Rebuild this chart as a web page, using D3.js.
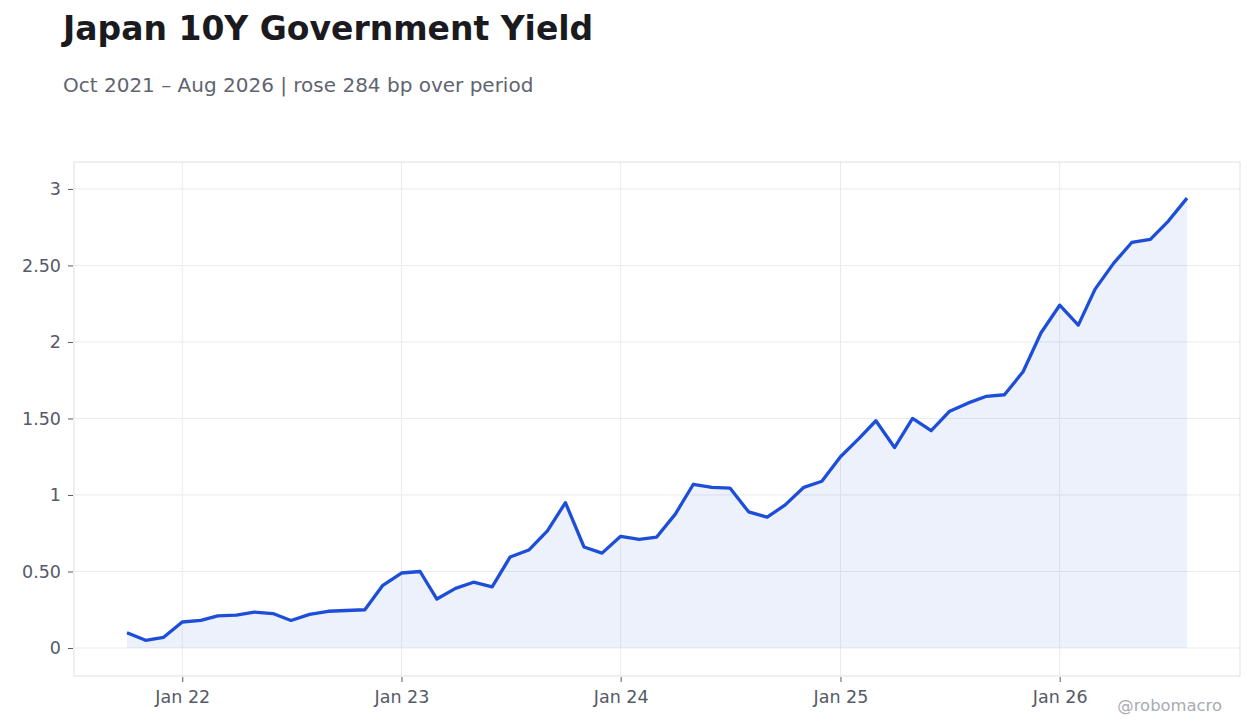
<!DOCTYPE html>
<html>
<head>
<meta charset="utf-8">
<script src="https://cdn.jsdelivr.net/npm/d3@7"></script>
<style>
  body { margin: 0; background: #fff; font-family: "DejaVu Sans", sans-serif; }
</style>
</head>
<body>
<div id="chart"></div>
<script>
// monthly observations, Oct 2021 .. Aug 2026
const months = [
  "2021-10", "2021-11", "2021-12",
  "2022-01", "2022-02", "2022-03", "2022-04", "2022-05", "2022-06",
  "2022-07", "2022-08", "2022-09", "2022-10", "2022-11", "2022-12",
  "2023-01", "2023-02", "2023-03", "2023-04", "2023-05", "2023-06",
  "2023-07", "2023-08", "2023-09", "2023-10", "2023-11", "2023-12",
  "2024-01", "2024-02", "2024-03", "2024-04", "2024-05", "2024-06",
  "2024-07", "2024-08", "2024-09", "2024-10", "2024-11", "2024-12",
  "2025-01", "2025-02", "2025-03", "2025-04", "2025-05", "2025-06",
  "2025-07", "2025-08", "2025-09", "2025-10", "2025-11", "2025-12",
  "2026-01", "2026-02", "2026-03", "2026-04", "2026-05", "2026-06",
  "2026-07", "2026-08"
];
const yields = [
  0.10, 0.05, 0.07,
  0.17, 0.18, 0.21, 0.215, 0.235, 0.225,
  0.18, 0.22, 0.24, 0.245, 0.25, 0.41,
  0.49, 0.50, 0.32, 0.39, 0.43, 0.40,
  0.595, 0.64, 0.765, 0.95, 0.66, 0.62,
  0.73, 0.71, 0.725, 0.875, 1.07, 1.05,
  1.045, 0.89, 0.855, 0.935, 1.05, 1.09,
  1.25, 1.37, 1.485, 1.31, 1.50, 1.42,
  1.545, 1.60, 1.645, 1.655, 1.805, 2.06,
  2.24, 2.11, 2.345, 2.515, 2.65, 2.67,
  2.79, 2.94
];
const yTicks = [0, 0.5, 1, 1.5, 2, 2.5, 3];
const xTickDates = ["2022-01", "2023-01", "2024-01", "2025-01", "2026-01"];

const title = "Japan 10Y Government Yield";
const subtitle = "Oct 2021 \u2013 Aug 2026 | rose 284 bp over period";
const credit = "@robomacro";

const parseMonth = d3.timeParse("%Y-%m");
const data = months.map((m, i) => ({ date: parseMonth(m), value: yields[i] }));

const W = 1260, H = 728;
const margin = {top: 162, right: 20, bottom: 52, left: 74};
const width = W - margin.left - margin.right,
      height = H - margin.top - margin.bottom;

const svg = d3.select("#chart").append("svg")
    .attr("width", W)
    .attr("height", H);

svg.append("text")
    .attr("x", 63).attr("y", 40)
    .style("font-size", "33px").style("font-weight", "bold")
    .attr("fill", "#1a1a1f")
    .text(title);

svg.append("text")
    .attr("x", 63).attr("y", 92)
    .style("font-size", "20px")
    .attr("fill", "#5f6470")
    .text(subtitle);

const g = svg.append("g")
    .attr("transform", `translate(${margin.left},${margin.top})`);

// x scale with 5% padding on either side
const ext = d3.extent(data, d => d.date);
const span = ext[1] - ext[0];
const x = d3.scaleTime()
    .domain([new Date(+ext[0] - span * 0.05), new Date(+ext[1] + span * 0.05)])
    .range([0, width]);

const y = d3.scaleLinear()
    .domain([-0.183, 3.176])
    .range([height, 0]);

// grid
g.append("g").selectAll("line")
  .data(yTicks).join("line")
    .attr("x1", 0).attr("x2", width)
    .attr("y1", d => y(d)).attr("y2", d => y(d))
    .attr("stroke", "#ebebef").attr("stroke-width", 1);

const xTicks = xTickDates.map(parseMonth);
g.append("g").selectAll("line")
  .data(xTicks).join("line")
    .attr("x1", d => x(d)).attr("x2", d => x(d))
    .attr("y1", 0).attr("y2", height)
    .attr("stroke", "#ebebef").attr("stroke-width", 1);

// area + line
const area = d3.area()
    .x(d => x(d.date))
    .y0(y(0))
    .y1(d => y(d.value));

g.append("path")
    .datum(data)
    .attr("fill", "#1d4ed8")
    .attr("fill-opacity", 0.08)
    .attr("d", area);

const line = d3.line()
    .x(d => x(d.date))
    .y(d => y(d.value));

g.append("path")
    .datum(data)
    .attr("fill", "none")
    .attr("stroke", "#1d4ed8")
    .attr("stroke-width", 3.3)
    .attr("stroke-linejoin", "round")
    .attr("d", line);

// frame
g.append("rect")
    .attr("x", 0).attr("y", 0)
    .attr("width", width).attr("height", height)
    .attr("fill", "none")
    .attr("stroke", "#e0e0e4");

// axes
const fmtY = d => d === 0 ? "0" : (Number.isInteger(d) ? String(d) : d.toFixed(2));

const yAxis = g.append("g")
    .call(d3.axisLeft(y).tickValues(yTicks).tickFormat(fmtY).tickSize(5).tickPadding(8));
yAxis.select(".domain").remove();
yAxis.selectAll(".tick line").attr("stroke", "#555a66").attr("transform", "translate(-1,0)");
yAxis.selectAll(".tick text")
    .attr("fill", "#555a66")
    .style("font-size", "17.5px")
    .style("font-family", "DejaVu Sans");

const xAxis = g.append("g")
    .attr("transform", `translate(0,${height})`)
    .call(d3.axisBottom(x).tickValues(xTicks).tickFormat(d3.timeFormat("Jan %y")).tickSize(5).tickPadding(10));
xAxis.select(".domain").remove();
xAxis.selectAll(".tick line").attr("stroke", "#555a66").attr("transform", "translate(0,1)");
xAxis.selectAll(".tick text")
    .attr("fill", "#555a66")
    .style("font-size", "17.5px")
    .style("font-family", "DejaVu Sans");

svg.append("text")
    .attr("x", 1222).attr("y", 711)
    .attr("text-anchor", "end")
    .style("font-size", "16.4px")
    .attr("fill", "#a9abb2")
    .text(credit);
</script>
</body>
</html>
